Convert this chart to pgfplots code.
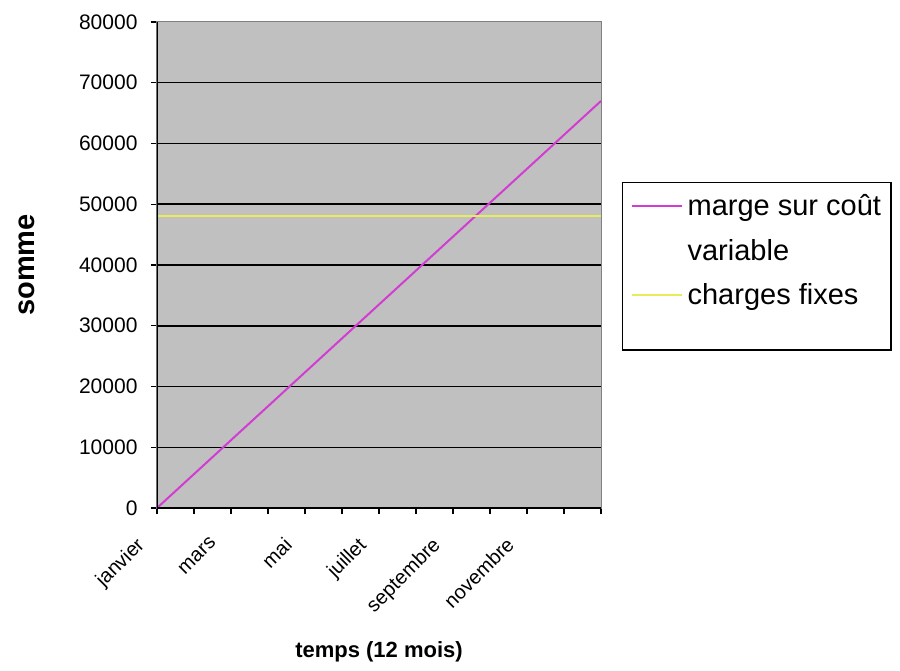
\documentclass[border=0pt]{standalone}
\usepackage{pgfplots}
\pgfplotsset{compat=1.18}
\usepackage{fontspec}
\setmainfont{Liberation Sans}
\definecolor{plotbg}{RGB}{192,192,192}
\definecolor{bordergray}{RGB}{128,128,128}
\definecolor{mag}{RGB}{210,60,210}
\definecolor{yel}{RGB}{232,236,90}
\begin{document}
\begin{tikzpicture}
\useasboundingbox (0,0) rectangle (900pt,670pt);
\begin{axis}[
  at={(157pt,162pt)}, anchor=south west,
  scale only axis, width=444pt, height=486pt,
  xmin=0, xmax=12, ymin=0, ymax=80000,
  axis background/.style={fill=plotbg},
  axis line style={draw=bordergray, line width=1pt},
  xtick={0,...,12},
  xticklabels={janvier,{},mars,{},mai,{},juillet,{},septembre,{},novembre,{},{}},
  ytick={0,10000,...,80000},
  scaled y ticks=false,
  yticklabel style={font=\fontsize{21}{24}\selectfont, xshift=-10pt, /pgf/number format/.cd, fixed, 1000 sep={}},
  /pgf/number format/assume math mode=true,
  tick align=outside, xtick pos=left, ytick pos=left,
  major tick length=6pt,
  tick style={black, line width=1.2pt},
  extra y ticks={10000,20000,30000,40000,50000,60000,70000},
  extra y tick labels={},
  extra y tick style={grid=major, major grid style={black, line width=1.5pt}, major tick length=0pt},
  xticklabel style={rotate=45, anchor=north east, font=\fontsize{20}{24}\selectfont, xshift=-27.6pt, yshift=3.5pt},
  xlabel={temps (12 mois)},
  ylabel={somme},
  xlabel style={at={(axis description cs:0.5,-0.296)}, anchor=center, font=\fontsize{22}{26}\selectfont\bfseries},
  ylabel style={at={(axis description cs:-0.293,0.5)}, anchor=center, font=\fontsize{29}{32}\selectfont\bfseries},
  legend cell align=left,
  legend image code/.code={\draw[#1] (0pt,0pt) -- (50pt,0pt);},
  legend style={at={(1.047,0.671)}, anchor=north west, draw=black, line width=1.5pt, fill=white,
    font=\fontsize{29}{32}\selectfont, inner xsep=8pt, inner ysep=10pt, row sep=18pt, column sep=3pt,
    column 2/.style={text width=223pt}},
]
\addplot[mag, line width=2pt] coordinates {
  (0,0) (1,5583) (2,11167) (3,16750) (4,22333) (5,27917) (6,33500)
  (7,39083) (8,44667) (9,50250) (10,55833) (11,61417) (12,67000)
};
\addlegendentry{marge sur coût}
\addlegendimage{empty legend}
\addlegendentry{variable}
\addplot[yel, line width=2pt] coordinates {
  (0,48000) (1,48000) (2,48000) (3,48000) (4,48000) (5,48000) (6,48000)
  (7,48000) (8,48000) (9,48000) (10,48000) (11,48000) (12,48000)
};
\addlegendentry{charges fixes}
\addlegendimage{empty legend}
\addlegendentry{\rule{0pt}{8pt}}
\draw[black, line width=1.5pt] (rel axis cs:0,1) -- (rel axis cs:0,0) -- (rel axis cs:1,0);
\end{axis}
\end{tikzpicture}
\end{document}
